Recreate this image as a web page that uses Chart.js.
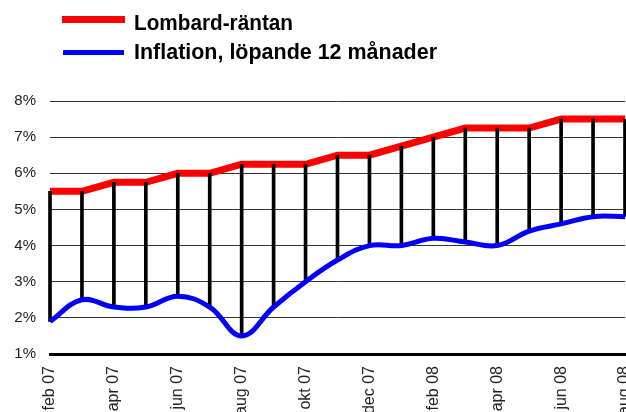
<!DOCTYPE html>
<html><head><meta charset="utf-8">
<script src="https://cdn.jsdelivr.net/npm/chart.js@4"></script>
<style>
html,body{margin:0;padding:0;background:#fff;}
#wrap{position:relative;width:626px;height:412px;overflow:hidden;}
#c{position:absolute;left:0;top:0;}
.sw{position:absolute;}
.lt{position:absolute;display:inline-block;font-family:"Liberation Sans Narrow","Liberation Sans",Arial,sans-serif;font-weight:bold;font-size:22px;line-height:22px;color:#000;white-space:nowrap;transform-origin:left center;}
</style></head>
<body>
<div id="wrap">
<canvas id="c" width="626" height="412"></canvas>
<div class="sw" style="left:62px;top:16px;width:63px;height:7px;background:#ff0000"></div>
<div class="sw" style="left:63px;top:50px;width:61px;height:5px;background:#0000ff"></div>
<span class="lt" id="l1" style="left:134px;top:12px">Lombard-räntan</span>
<span class="lt" id="l2" style="left:134px;top:41px">Inflation, löpande 12 månader</span>
</div>
<script>
const months = ['feb 07','mar 07','apr 07','maj 07','jun 07','jul 07','aug 07','sep 07','okt 07','nov 07','dec 07','jan 08','feb 08','mar 08','apr 08','maj 08','jun 08','jul 08','aug 08'];
const lombard = [5.5,5.5,5.75,5.75,6.0,6.0,6.25,6.25,6.25,6.5,6.5,6.75,7.0,7.25,7.25,7.25,7.5,7.5,7.5];
const inflation = [1.9,2.5,2.3,2.3,2.6,2.3,1.5,2.3,3.0,3.6,4.0,4.0,4.2,4.1,4.0,4.4,4.6,4.8,4.8];
const yTicks = [1,2,3,4,5,6,7,8];
const seriesNames = ['Lombard-räntan','Inflation, löpande 12 månader'];

function fitText(id, target){
  const el = document.getElementById(id);
  const w = el.getBoundingClientRect().width;
  if (w > 0) el.style.transform = 'scaleX(' + (target / w) + ')';
}
fitText('l1', 159);
fitText('l2', 303);

const spans = inflation.map((v, i) => [v, lombard[i]]);

new Chart(document.getElementById('c'), {
  type: 'bar',
  data: {
    labels: months,
    datasets: [
      { type: 'line', label: seriesNames[0], data: lombard, borderColor: '#ff0000', backgroundColor: '#ff0000', borderWidth: 7, pointRadius: 0, tension: 0, order: 3 },
      { type: 'bar', label: 'spann', data: spans, backgroundColor: '#000000', barThickness: 3, order: 2, clip: false },
      { type: 'line', label: seriesNames[1], data: inflation, borderColor: '#0000ff', backgroundColor: '#0000ff', borderWidth: 5, pointRadius: 0, tension: 0.4, order: 1 }
    ]
  },
  options: {
    responsive: false,
    animation: false,
    events: [],
    layout: { padding: { top: 101, right: 1, left: 0, bottom: 0 } },
    plugins: { legend: { display: false }, tooltip: { enabled: false } },
    scales: {
      x: {
        offset: false,
        grid: { display: false, drawTicks: false },
        border: { display: true, color: '#000000', width: 3 },
        ticks: {
          autoSkip: false, minRotation: 90, maxRotation: 90, padding: 12,
          color: '#222222', font: { family: '"Liberation Sans", Arial, sans-serif', size: 16 },
          callback: function(v, i){ return i % 2 === 0 ? months[i] : ''; }
        },
        afterFit: function(s){ s.height = 58; s.paddingLeft = 0; s.paddingRight = 0; }
      },
      y: {
        min: 1, max: 8,
        afterBuildTicks: function(s){ s.ticks = yTicks.map(v => ({ value: v })); },
        grid: { color: '#333333', lineWidth: 1, drawTicks: false },
        border: { display: false },
        ticks: {
          padding: 14, color: '#222222', font: { family: '"Liberation Sans", Arial, sans-serif', size: 15 },
          callback: function(v){ return v + '%'; }
        },
        afterFit: function(s){ s.width = 50; s.paddingTop = 0; s.paddingBottom = 0; }
      }
    }
  }
});
</script>
</body></html>
